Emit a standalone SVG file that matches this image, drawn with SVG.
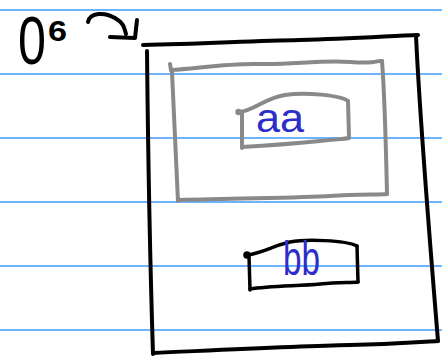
<svg xmlns="http://www.w3.org/2000/svg" width="442" height="356" viewBox="0 0 442 356">
<style>
.rule{stroke:#3d9bff;stroke-width:1.4;fill:none}
.ink{stroke:#000;stroke-width:4;fill:none;stroke-linecap:round;stroke-linejoin:round}
.gray{stroke:#898989;stroke-width:4;fill:none;stroke-linecap:round;stroke-linejoin:round}
.lbl{font-family:"Liberation Sans",Arial,sans-serif;fill:#2d2dc8}
.hand{font-family:"Liberation Sans",Arial,sans-serif;fill:#000}
</style>
<rect width="442" height="356" fill="#fff"/>
<g id="ruling">
<line class="rule" x1="0" y1="10" x2="442" y2="10"/>
<line class="rule" x1="0" y1="74" x2="442" y2="74"/>
<line class="rule" x1="0" y1="138" x2="442" y2="138"/>
<line class="rule" x1="0" y1="202" x2="442" y2="202"/>
<line class="rule" x1="0" y1="266" x2="442" y2="266"/>
<line class="rule" x1="0" y1="330" x2="442" y2="330"/>
</g>
<g id="title">
<text class="hand" x="18" y="64" font-size="68" transform="translate(18 0) scale(0.74 1) translate(-18 0)">0</text>
<text class="hand" x="48" y="41" font-size="30" font-weight="bold" textLength="19" lengthAdjust="spacingAndGlyphs">6</text>
</g>
<g id="connectors">
<path class="ink" d="M88,22 C90,12 105,12 115,18 S124,28 126,34"/>
<path class="ink" d="M110,37 L135,38 L137,20"/>
</g>
<g id="outer">
<path class="ink" d="M143,45 C200,44 250,41 300,40 S390,36 418,35"/>
<path class="ink" d="M416,36 C420,120 428,220 438,341"/>
<path class="ink" d="M153,353 C220,350 300,346 350,345 S420,342 438,341"/>
<path class="ink" d="M147,51 C148,150 150,260 153,354"/>
</g>
<g id="gray-box">
<path class="gray" d="M170,64 L171,70"/>
<path class="gray" d="M171,70 C200,68 230,63 260,64 S320,60 350,62 S375,60 382,61"/>
<path class="gray" d="M382,61 C385,100 386,150 387,194"/>
<path class="gray" d="M178,200 C240,198 300,198 330,196 S380,195 387,194"/>
<path class="gray" d="M172,72 C174,120 176,160 178,201"/>
</g>
<g id="aa">
<circle cx="238.5" cy="112" r="3.2" fill="#898989"/>
<path class="gray" d="M240,112 C255,110 265,98 285,95 S340,95 348,101"/>
<path class="gray" d="M348,101 L349,137"/>
<path class="gray" d="M242,147 C260,146 300,143 320,141 S345,139 349,138"/>
<path class="gray" d="M242,113 L242,148"/>
<text class="lbl" x="256" y="132" font-size="40" textLength="48" lengthAdjust="spacingAndGlyphs">aa</text>
</g>
<g id="bb">
<circle cx="247" cy="255" r="3.8" fill="#000"/>
<path class="ink" style="stroke-width:3.5" d="M248,255 C265,252 275,245 290,242 S345,240 357,246"/>
<path class="ink" style="stroke-width:3.5" d="M357,246 L358,282"/>
<path class="ink" style="stroke-width:3.5" d="M250,289 C270,286 300,286 320,284 S350,283 358,282"/>
<path class="ink" style="stroke-width:3.5" d="M249,256 L250,290"/>
<text class="lbl" x="283" y="275" font-size="48" textLength="37" lengthAdjust="spacingAndGlyphs">bb</text>
</g>
</svg>
